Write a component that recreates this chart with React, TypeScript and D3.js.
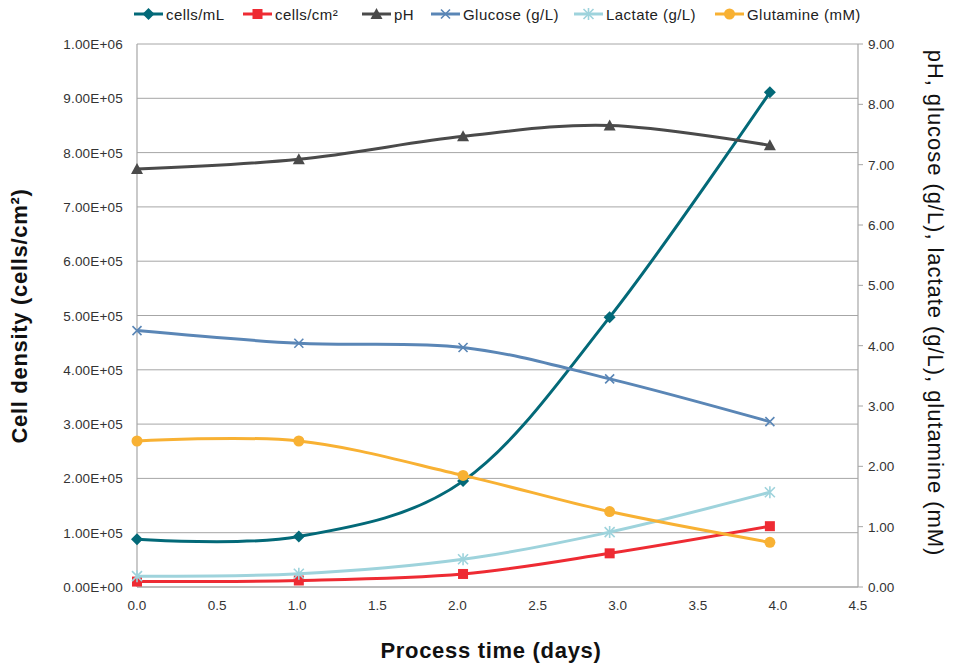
import React from "react";
import * as d3 from "d3";

const days = [0, 1.01, 2.035, 2.95, 3.95];
const cellsPerML = [88000, 93000, 195000, 497000, 911000];
const cellsPerCm2 = [10000, 12000, 24000, 62000, 112000];
const pH = [6.93, 7.09, 7.47, 7.65, 7.32];
const glucose = [4.25, 4.04, 3.97, 3.45, 2.74];
const lactate = [0.18, 0.22, 0.46, 0.91, 1.57];
const glutamine = [2.42, 2.42, 1.85, 1.25, 0.74];

const leftTicks = [0, 1e5, 2e5, 3e5, 4e5, 5e5, 6e5, 7e5, 8e5, 9e5, 1e6];
const rightTicks = [0, 1, 2, 3, 4, 5, 6, 7, 8, 9];
const xTicks = [0, 0.5, 1, 1.5, 2, 2.5, 3, 3.5, 4, 4.5];

const W = 953, H = 666;
const M = { left: 137, right: 858, top: 44, bottom: 587 };
const FONT = "'Liberation Sans', Arial, Helvetica, sans-serif";

type Series = { name: string; values: number[]; axis: "L" | "R"; color: string; marker: string; legendX: number };

const series: Series[] = [
  { name: "cells/mL", values: cellsPerML, axis: "L", color: "#036978", marker: "diamond", legendX: 134 },
  { name: "cells/cm²", values: cellsPerCm2, axis: "L", color: "#EE2B33", marker: "square", legendX: 243 },
  { name: "pH", values: pH, axis: "R", color: "#4A4A4A", marker: "triangle", legendX: 362 },
  { name: "Glucose (g/L)", values: glucose, axis: "R", color: "#5A86B6", marker: "x", legendX: 431 },
  { name: "Lactate (g/L)", values: lactate, axis: "R", color: "#9ED3DC", marker: "star", legendX: 574 },
  { name: "Glutamine (mM)", values: glutamine, axis: "R", color: "#F8B133", marker: "circle", legendX: 715 },
];

function Marker({ type, x, y, color }: { type: string; x: number; y: number; color: string }) {
  if (type === "diamond") {
    const s = 6;
    return <path d={`M${x},${y - s}L${x + s},${y}L${x},${y + s}L${x - s},${y}Z`} fill={color} />;
  }
  if (type === "square") {
    return <rect x={x - 5} y={y - 5} width={10} height={10} fill={color} />;
  }
  if (type === "triangle") {
    return <path d={`M${x},${y - 6}L${x + 6},${y + 5}L${x - 6},${y + 5}Z`} fill={color} />;
  }
  if (type === "circle") {
    return <circle cx={x} cy={y} r={5.5} fill={color} />;
  }
  if (type === "x") {
    const s = 4.5;
    return <path d={`M${x - s},${y - s}L${x + s},${y + s}M${x - s},${y + s}L${x + s},${y - s}`} stroke={color} strokeWidth={1.6} />;
  }
  if (type === "star") {
    const s = 5;
    return (
      <path
        d={`M${x - s},${y - s}L${x + s},${y + s}M${x - s},${y + s}L${x + s},${y - s}M${x},${y - s - 1}L${x},${y + s + 1}`}
        stroke={color}
        strokeWidth={1.6}
      />
    );
  }
  return null;
}

export default function App() {
  const x = d3.scaleLinear().domain([0, 4.5]).range([M.left, M.right]);
  const yL = d3.scaleLinear().domain([0, 1e6]).range([M.bottom, M.top]);
  const yR = d3.scaleLinear().domain([0, 9]).range([M.bottom, M.top]);

  const grid = "#A6A6A6";
  const lineGen = (s: Series) => {
    const y = s.axis === "L" ? yL : yR;
    return d3
      .line<number>()
      .x((_, i) => x(days[i]))
      .y((v) => y(v))
      .curve(d3.curveCardinal.tension(0))(s.values) as string;
  };

  return (
    <svg width={W} height={H} style={{ position: "absolute", left: 0, top: 0, background: "#fff" }} fontFamily={FONT}>
      {/* gridlines */}
      {leftTicks.map((t) => (
        <line key={"g" + t} x1={M.left} x2={M.right} y1={yL(t)} y2={yL(t)} stroke={grid} strokeWidth={1} />
      ))}
      {/* axes */}
      <line x1={M.left} x2={M.left} y1={M.top} y2={M.bottom} stroke={grid} strokeWidth={1.2} />
      <line x1={M.right} x2={M.right} y1={M.top} y2={M.bottom} stroke={grid} strokeWidth={1.2} />
      <line x1={M.left} x2={M.right} y1={M.bottom} y2={M.bottom} stroke={grid} strokeWidth={1.2} />
      {rightTicks.map((t) => (
        <line key={"rt" + t} x1={M.right} x2={M.right + 5} y1={yR(t)} y2={yR(t)} stroke={grid} />
      ))}
      {/* left tick labels */}
      {leftTicks.map((t) => (
        <text key={"lt" + t} x={M.left - 14} y={yL(t) + 5} textAnchor="end" fontSize={13.5} letterSpacing={0.2} fill="#333">
          {t.toExponential(2).toUpperCase().replace(/E\+(\d)$/, "E+0$1")}
        </text>
      ))}
      {rightTicks.map((t) => (
        <text key={"rl" + t} x={M.right + 10} y={yR(t) + 5} textAnchor="start" fontSize={13.5} fill="#333">
          {t.toFixed(2)}
        </text>
      ))}
      {xTicks.map((t) => (
        <text key={"xl" + t} x={x(t)} y={M.bottom + 23} textAnchor="middle" fontSize={13.5} fill="#333">
          {t.toFixed(1)}
        </text>
      ))}
      {/* series */}
      {series.map((s) => (
        <g key={s.name}>
          <path d={lineGen(s)} fill="none" stroke={s.color} strokeWidth={3} />
          {s.values.map((v, i) => (
            <Marker key={i} type={s.marker} x={x(days[i])} y={(s.axis === "L" ? yL : yR)(v)} color={s.color} />
          ))}
        </g>
      ))}
      {/* legend */}
      {series.map((s) => (
        <g key={"lg" + s.name}>
          <line x1={s.legendX} x2={s.legendX + 29} y1={14} y2={14} stroke={s.color} strokeWidth={3} />
          <Marker type={s.marker} x={s.legendX + 14.5} y={14} color={s.color} />
          <text x={s.legendX + 32} y={19.5} fontSize={15} letterSpacing={0.45} fill="#222">
            {s.name}
          </text>
        </g>
      ))}
      {/* axis titles */}
      <text
        transform={`translate(27,316) rotate(-90)`}
        textAnchor="middle"
        fontSize={22}
        fontWeight="bold"
        letterSpacing={0.7}
        fill="#111"
      >
        Cell density (cells/cm²)
      </text>
      <text
        transform={`translate(928,303) rotate(90)`}
        textAnchor="middle"
        fontSize={22}
        letterSpacing={0.95}
        fill="#111"
      >
        pH, glucose (g/L), lactate (g/L), glutamine (mM)
      </text>
      <text x={491} y={658} textAnchor="middle" fontSize={22} fontWeight="bold" letterSpacing={0.7} fill="#111">
        Process time (days)
      </text>
    </svg>
  );
}
